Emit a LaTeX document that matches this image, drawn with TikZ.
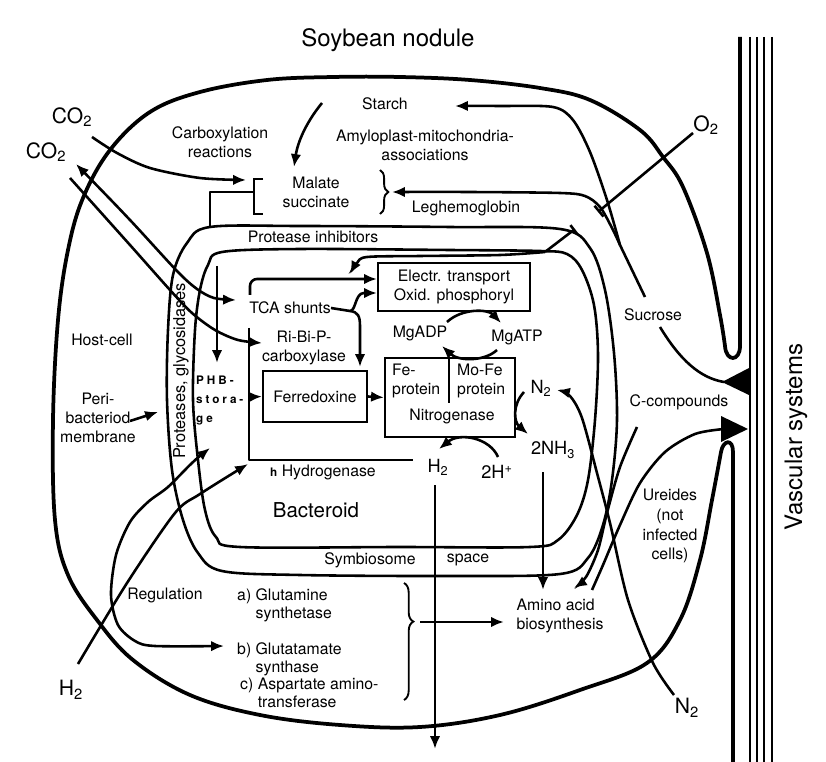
\documentclass[tikz,border=0pt]{standalone}
\usepackage{fontspec}
\setmainfont{TeX Gyre Heros}
\usetikzlibrary{arrows.meta,decorations.pathreplacing}

\newcommand{\lblfont}{\fontsize{13.5}{16}\selectfont}

\begin{document}
\begin{tikzpicture}[x=0.03cm, y=-0.03cm,
  lbl/.style={font=\lblfont, align=center, inner sep=0pt},
  chem/.style={font=\fontsize{18}{20}\selectfont, inner sep=0pt},
  smallchem/.style={font=\fontsize{15.5}{18}\selectfont, inner sep=0pt},
  line/.style={line width=2.2pt, line join=round},
  flow/.style={line width=2.2pt, -{Latex[length=11pt,width=9pt]}},
  twoway/.style={line width=2.2pt, {Latex[length=11pt,width=9pt]}-{Latex[length=11pt,width=9pt]}},
  wall/.style={line width=3.2pt, line join=round},
  boxed/.style={draw, line width=1.8pt, inner sep=0pt, font=\lblfont, align=center},
  curly/.style={line width=1.6pt, decorate, decoration={brace, amplitude=7pt}}]
\useasboundingbox (0,0) rectangle (826,762);

\node[font=\fontsize{20.5}{24}\selectfont] (title) at (388,40) {Soybean nodule};

% vascular bundle
\foreach \vx in {750,757,764,772}
  \draw[line width=1.5pt] (\vx,37) -- (\vx,762);
\node[rotate=90, font=\fontsize{20.5}{24}\selectfont] (vasc) at (796,437) {Vascular systems};

% host cell wall, joined to the bundle
\draw[wall] (740,37) -- (740,346) .. controls (740,362) and (726,362) .. (725,346)
  -- plot[smooth, tension=0.6] coordinates {(725,346) (720,315) (707,253) (683,187)
  (663,157) (640,130) (590,100) (540,88) (470,80) (400,77) (333,77) (267,80) (200,92)
  (150,112) (110,150) (83,198) (68,250) (58,320) (53,420) (55,520) (68,575) (97,620)
  (133,660) (190,695) (260,715) (340,725) (420,727) (500,715) (580,690) (647,663)
  (680,620) (700,560) (712,500) (721,452)}
  .. controls (723,440) and (733,438) .. (733,452) -- (733,762);

% peribacteroid membrane and bacteroid
\draw[line] plot[smooth cycle, tension=0.55] coordinates {(300,226) (450,227) (560,229)
  (590,248) (605,290) (614,353) (617,420) (612,480) (603,525) (588,558) (560,574)
  (450,576) (300,575) (222,571) (198,553) (183,520) (172,470) (167,400) (168,330)
  (173,275) (187,243) (210,227)};
\draw[line] plot[smooth cycle, tension=0.55] coordinates {(300,249) (450,250) (540,251)
  (567,254) (582,270) (594,305) (598,355) (595,420) (588,480) (577,515) (558,540)
  (530,547) (400,547) (240,547) (216,537) (205,510) (198,460) (193,400) (195,330)
  (200,290) (208,265) (222,252)};

\node[lbl, font=\fontsize{14}{16}\selectfont, rotate=90] (prot) at (181,371) {Proteases, glycosidases};
\node[lbl] (pinh) at (313,237) {Protease inhibitors};
\node[lbl] (host) at (102,340) {Host-cell};
\node[lbl] (peri) at (98,418) {Peri-\\bacteriod\\membrane};
\draw[flow] (130,421) -- (158,412);

% carbon side
\node[chem] (co2a) at (72,117) {CO\textsubscript{2}};
\node[chem] (co2b) at (46,152) {CO\textsubscript{2}};
\node[lbl] (carb) at (220,142) {Carboxylation\\reactions};
\node[lbl] (starch) at (385,104) {Starch};
\node[lbl] (amylo) at (425,145) {Amyloplast-mitochondria-\\associations};
\node[lbl] (malate) at (316,192) {Malate\\succinate};
\node[lbl] (leg) at (466,208) {Leghemoglobin};
\draw[line width=1.7pt] (263,179) -- (254,179) -- (254,214) -- (263,214);
\draw[curly] (380,170) -- (380,214);
\draw[line] (254,192) -| (210,227);
\draw[flow] plot[smooth] coordinates {(92,137) (117,153) (150,168) (200,178) (246,180)};
\draw[flow] (322,103) .. controls (308,120) and (298,140) .. (294,167);

% sucrose from the bundle
\node[lbl] (sucr) at (653,315) {Sucrose};
\draw[flow] plot[smooth] coordinates {(620,245) (607,200) (590,152) (573,120) (553,107) (500,106) (455,106)};
\draw[flow] plot[smooth] coordinates {(620,245) (612,228) (600,207) (585,196) (560,193) (470,192) (392,192)};
\draw[line] (620,245) -- (645,297);
\draw[line] (660,327) .. controls (680,360) and (700,378) .. (724,382);
\fill (722,382) -- (749,368) -- (749,395) -- cycle;

% oxygen
\node[chem] (o2) at (706,125) {O\textsubscript{2}};
\draw[line, -{Bar[width=12pt]}] (693,133) -- (598,212);
\draw[line, {Bar[width=10pt]}-] (575,229) -- (545,252);
\draw[flow] plot[smooth] coordinates {(545,252) (500,255) (420,256) (367,257) (357,263) (350,274)};

% into the bacteroid
\draw[twoway] plot[smooth] coordinates {(76,164) (130,220) (177,271) (197,289) (214,298) (236,300)};
\draw[flow] plot[smooth] coordinates {(70,178) (130,245) (170,290) (192,313) (215,330) (238,340) (262,343)};
\draw[flow] (217,266) -- (217,363);

\node[lbl] (tca) at (290,308) {TCA shunts};
\node[lbl] (rubp) at (304,348) {Ri-Bi-P-\\carboxylase};
\node[font=\bfseries\fontsize{10}{16}\selectfont\addfontfeature{LetterSpace=25}, align=left, anchor=north west, inner sep=0pt] (phb) at (196,376) {PHB-\\stora-\\ge};
\node[boxed, minimum width=3.12cm, minimum height=1.53cm] (fer) at (315,396.5) {Ferredoxine};
\node[boxed, minimum width=4.56cm, minimum height=1.44cm] (ele) at (454,287) {Electr. transport\\Oxid. phosphoryl};
\node[draw, line width=1.8pt, minimum width=3.9cm, minimum height=2.37cm] (nit) at (450,397.5) {};
\draw[line width=1.8pt] (449,358) -- (449,403);
\node[lbl, align=left, anchor=north west] (fep) at (392,364) {Fe-\\protein};
\node[lbl, align=left, anchor=north west] (mofe) at (457,364) {Mo-Fe\\protein};
\node[lbl] (nase) at (452,416) {Nitrogenase};

\draw[flow, rounded corners=6pt] (250,295) |- (ele.west |- 0,279);
\draw[line] (249,328) |- (413,460);
\draw[flow] (249,397) -- (fer.west);
\draw[flow] (fer.east) -- (nit.west);
\draw[line] (tca.east) -- (350,311) coordinate (fork);
\draw[flow] (fork) .. controls (356,311) and (355,293) .. (364,293) -- (ele.west |- 0,293);
\draw[flow] (fork) .. controls (358,312) and (360,316) .. (360,326) -- (360,367);

\node[lbl] (adp) at (420,333) {MgADP};
\node[lbl] (atp) at (517,337) {MgATP};
\draw[flow] (447,322) .. controls (462,308) and (488,309) .. (501,323);
\draw[flow] (497,350) .. controls (484,362) and (458,361) .. (442,346);

\node[smallchem] (n2) at (541,388) {N\textsubscript{2}};
\node[smallchem] (nh3) at (553,450) {2NH\textsubscript{3}};
\node[smallchem] (h2) at (438,467) {H\textsubscript{2}};
\node[smallchem] (hplus) at (497,472) {2H\textsuperscript{+}};
\draw[flow] (524,392) .. controls (512,405) and (514,422) .. (528,434);
\draw[flow] (498,457) .. controls (490,438) and (460,432) .. (439,449);
\node[lbl] (hydro) at (323,472) {{\bfseries\fontsize{10}{12}\selectfont h} Hydrogenase};
\node[font=\fontsize{17.5}{20}\selectfont] (bact) at (316,510) {Bacteroid};
\draw[flow] (435,485) -- (435,749);
\draw[flow] (543,472) -- (543,590);
\node[lbl] (symb) at (370,560) {Symbiosome};
\node[lbl] (space) at (468,560) {space};

% assimilation
\node[lbl, align=left] (amino) at (560,616) {Amino acid\\biosynthesis};
\node[lbl] (reg) at (165,595) {Regulation};
\node[lbl, align=left, anchor=west, font=\fontsize{13.5}{15.4}\selectfont] (gs) at (237,605) {a) Glutamine\\\phantom{a) }synthetase};
\node[lbl, align=left, anchor=west, font=\fontsize{13.5}{15.4}\selectfont] (gogat) at (237,659) {b) Glutatamate\\\phantom{b) }synthase};
\node[lbl, align=left, anchor=west, font=\fontsize{13.5}{15.4}\selectfont] (aat) at (240,694) {c) Aspartate amino-\\\phantom{c) }transferase};
\draw[curly, decoration={brace, amplitude=8pt, aspect=0.33}] (404,583) -- (404,700);
\draw[flow] (420,622) -- (504,622);
\draw[twoway] plot[smooth] coordinates {(210,448) (192,463) (168,487) (148,502) (130,522)
  (116,555) (111,595) (118,625) (135,641) (155,646) (224,646)};
\node[chem] (h2b) at (71,690) {H\textsubscript{2}};
\draw[flow] plot[smooth] coordinates {(78,664) (127,583) (175,513) (200,494) (248,464)};

% export side
\node[lbl] (ccomp) at (679,402) {C-compounds};
\node[lbl, font=\fontsize{13.5}{17}\selectfont] (ureid) at (670,526) {Ureides\\(not\\infected\\cells)};
\draw[flow] plot[smooth] coordinates {(637,427) (620,467) (607,513) (598,550) (586,577) (574,588)};
\draw[line] plot[smooth] coordinates {(592,590) (603,565) (620,525) (640,483) (665,452) (695,434) (724,429)};
\fill (721,416) -- (748,429) -- (721,442) -- cycle;
\node[chem] (n2b) at (687,708) {N\textsubscript{2}};
\draw[flow] plot[smooth] coordinates {(674,695) (653,663) (628,600) (610,523) (597,473) (582,418) (570,396) (557,390)};

\end{tikzpicture}
\end{document}
